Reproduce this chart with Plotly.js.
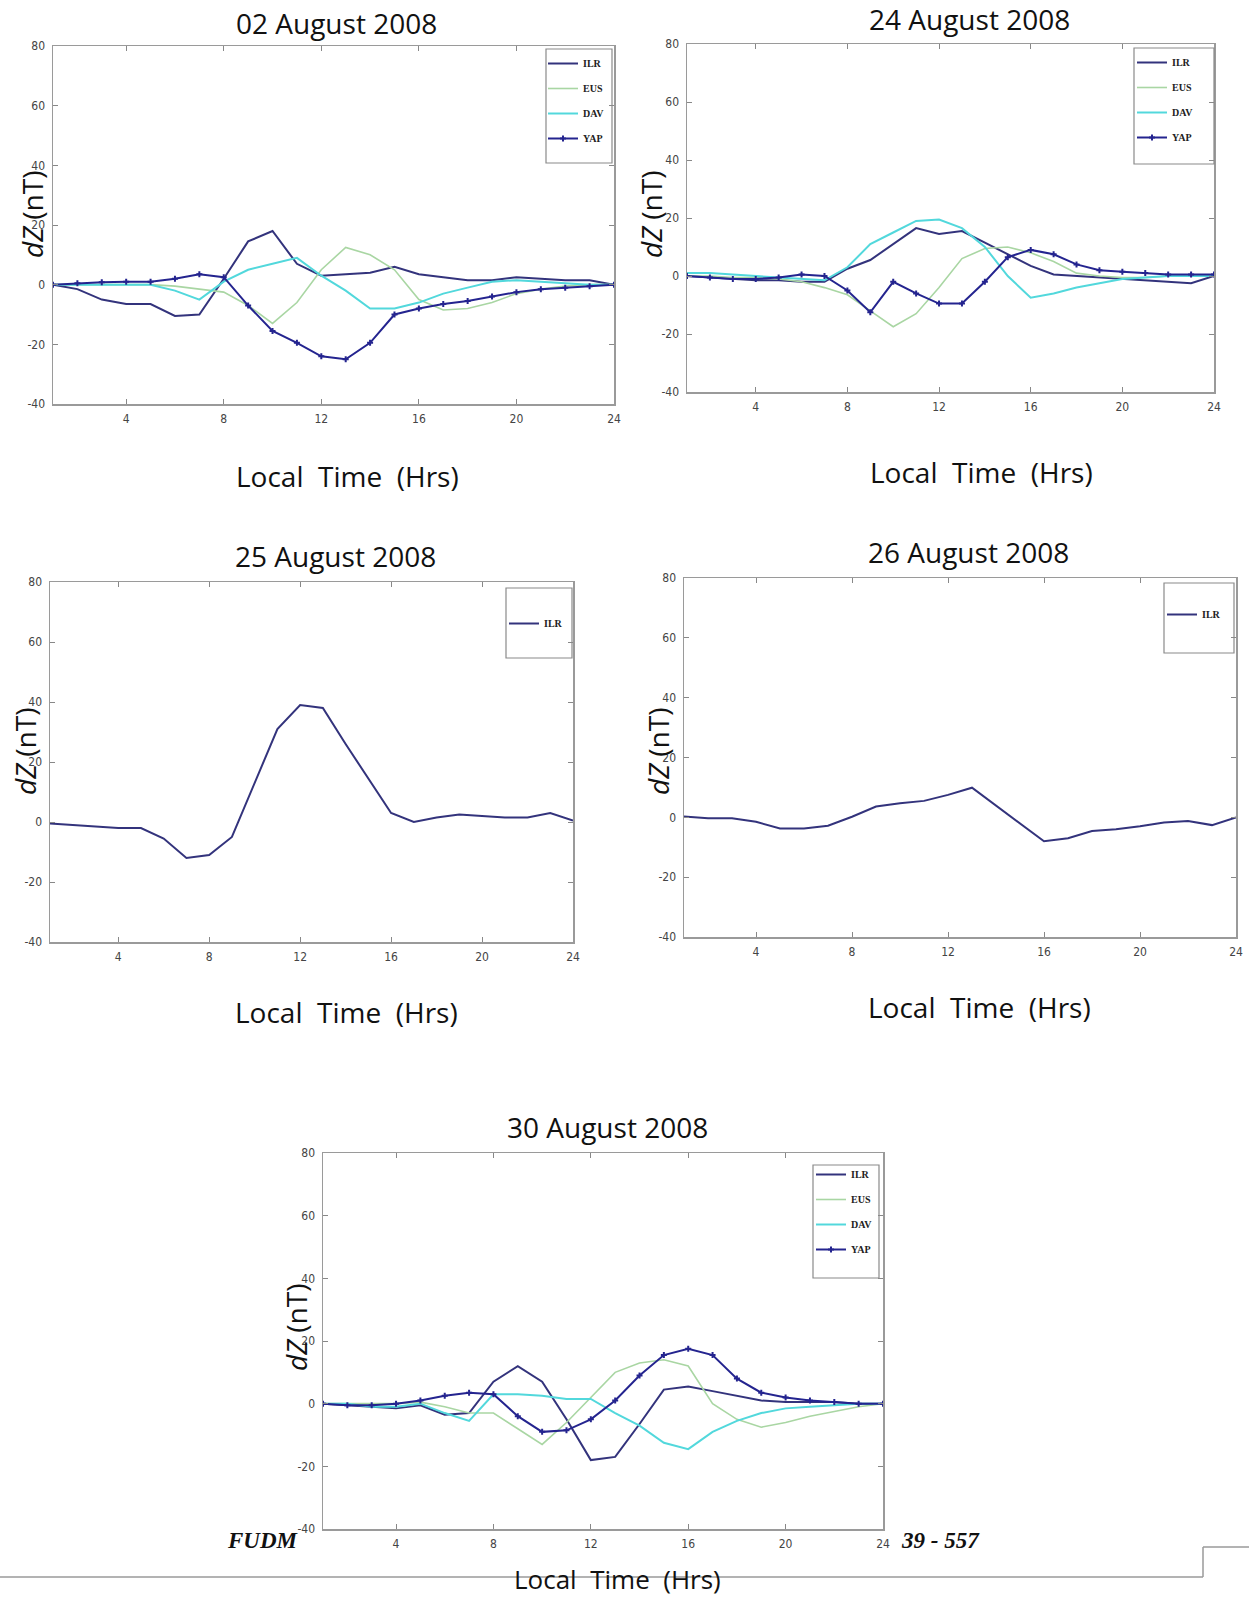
<!DOCTYPE html>
<html><head><meta charset="utf-8">
<script src="https://cdn.plot.ly/plotly-3.0.1.min.js"></script>
<style>html,body{margin:0;padding:0;background:#fff}#chart{width:1249px;height:1598px}</style>
</head><body><div id="chart"></div>
<script>
// ---------- data ----------
const hours = [1,2,3,4,5,6,7,8,9,10,11,12,13,14,15,16,17,18,19,20,21,22,23,24];
const xTicks = [4,8,12,16,20,24];
const yTicks = [-40,-20,0,20,40,60,80];
const stations = ['ILR','EUS','DAV','YAP'];
const dates = ['02 August 2008','24 August 2008','25 August 2008','26 August 2008','30 August 2008'];

const ILR_02Aug = [0,-1.5,-5,-6.5,-6.5,-10.5,-10,2,14.5,18,7,3,3.5,4,6,3.5,2.5,1.5,1.5,2.5,2,1.5,1.5,0];
const EUS_02Aug = [0,0,0,0,0,-0.5,-1.5,-2.5,-7,-13,-6,5,12.5,10,5,-5,-8.5,-8,-6,-3,-1.5,-0.5,0,0];
const DAV_02Aug = [0,0,0,0,0,-2,-5,1,5,7,9,3,-2,-8,-8,-6,-3,-1,1,1.5,1,0.5,0,0];
const YAP_02Aug = [0,0.5,0.8,1,1,2,3.5,2.5,-7,-15.5,-19.5,-24,-25,-19.5,-10,-8,-6.5,-5.5,-4,-2.5,-1.5,-1,-0.5,0];

const ILR_24Aug = [0,-0.5,-1,-1.5,-1.5,-2,-2,2.5,5.5,11,16.5,14.5,15.5,11.5,7.5,3.5,0.5,0,-0.5,-1,-1.5,-2,-2.5,0];
const EUS_24Aug = [0,0,-0.5,-0.5,-1,-2,-4,-6.5,-12,-17.5,-13,-4,6,9.5,10,8,5,1,0,-0.5,-0.5,0,0,0];
const DAV_24Aug = [1,1,0.5,0,-0.5,-1,-1.5,3,11,15,19,19.5,16.5,10,0,-7.5,-6,-4,-2.5,-1,-0.5,0,0,0];
const YAP_24Aug = [0,-0.5,-1,-1,-0.5,0.5,0,-5,-12.5,-2,-6,-9.5,-9.5,-2,6.5,9,7.5,4,2,1.5,1,0.5,0.5,0.5];

const ILR_25Aug = [-0.5,-1,-1.5,-2,-2,-5.5,-12,-11,-5,13,31,39,38,26,14.5,3,0,1.5,2.5,2,1.5,1.5,3,0.5];

const ILR_26Aug = [0.3,-0.3,-0.3,-1.5,-3.7,-3.7,-2.8,0.2,3.6,4.7,5.5,7.5,9.9,4,-2,-8,-7,-4.6,-4,-3,-1.7,-1.2,-2.6,0];

const ILR_30Aug = [0,-0.5,-1,-1.5,-0.5,-3.5,-3,7,12,7,-5,-18,-17,-6.5,4.5,5.5,4,2.5,1,0.5,0.5,0.5,0,0];
const EUS_30Aug = [0,0,0,0,0.5,-1,-3,-3,-8,-13,-6,2,10,13,14,12,0,-5,-7.5,-6,-4,-2.5,-1,0];
const DAV_30Aug = [0,0,-1,-1,0,-3,-5.5,3,3,2.5,1.5,1.5,-3,-7,-12.5,-14.5,-9,-5.5,-3,-1.5,-1,-0.5,0,0];
const YAP_30Aug = [0,-0.5,-0.5,0,1,2.5,3.5,3,-4,-9,-8.5,-5,1,9,15.5,17.5,15.5,8,3.5,2,1,0.5,0,0];

const panelSeries = [
  {ILR: ILR_02Aug, EUS: EUS_02Aug, DAV: DAV_02Aug, YAP: YAP_02Aug},
  {ILR: ILR_24Aug, EUS: EUS_24Aug, DAV: DAV_24Aug, YAP: YAP_24Aug},
  {ILR: ILR_25Aug},
  {ILR: ILR_26Aug},
  {ILR: ILR_30Aug, EUS: EUS_30Aug, DAV: DAV_30Aug, YAP: YAP_30Aug}
];

// ---------- styling / layout ----------
const W = 1249, H = 1598;
const fx = p => p / W;
const fy = p => 1 - p / H;

const styles = {
  ILR: {mode: 'lines', line: {color: '#33337c', width: 2}},
  EUS: {mode: 'lines', line: {color: '#a9d6a3', width: 1.6}},
  DAV: {mode: 'lines', line: {color: '#52d8dc', width: 2}},
  YAP: {mode: 'lines+markers', line: {color: '#24248f', width: 2},
        marker: {symbol: 'cross', size: 5, color: '#24248f'}}
};

// plot area boxes (px)
const boxes = [
  {l: 53, r: 614, t: 46, b: 404},
  {l: 687, r: 1214, t: 44, b: 392},
  {l: 50, r: 573, t: 582, b: 942},
  {l: 684, r: 1236, t: 578, b: 937},
  {l: 323, r: 883, t: 1153, b: 1529}
];
const titlePos = [[336, 23], [970, 19], [335, 556], [968, 552], [607, 1127]];
const yLabPos = [[32, 214], [651, 215], [25, 752], [658, 752], [296, 1328]];
const xLabPos = [[347, 476], [981, 472], [346, 1012], [979, 1007], [617, 1579]];
const legPos = [[543, 49], [1132, 48], [504, 609], [1162, 600], [811, 1160]];
const legBox = [[546, 612, 49, 163], [1134, 1214, 48, 164], [506, 572, 588, 658], [1164, 1234, 583, 653], [813, 879, 1165, 1278]];

const tickFont = {family: "'Liberation Sans Narrow', 'DejaVu Sans Condensed', sans-serif", size: 12, color: '#444'};
const textFont = {family: "'Open Sans', 'Noto Sans', sans-serif", size: 28, color: '#111'};

const traces = [];
const layout = {
  width: W, height: H,
  margin: {l: 0, r: 0, t: 0, b: 0},
  paper_bgcolor: '#fff', plot_bgcolor: '#fff',
  showlegend: true,
  annotations: [], shapes: []
};

panelSeries.forEach((series, i) => {
  const n = i === 0 ? '' : String(i + 1);
  const bx = boxes[i];
  const legKey = 'legend' + n;
  stations.forEach(st => {
    if (!series[st]) return;
    const s = styles[st];
    const tr = {
      type: 'scatter', x: hours, y: series[st], name: st,
      xaxis: 'x' + n, yaxis: 'y' + n, legend: legKey,
      legendgroup: st + i, mode: s.mode, line: s.line, hoverinfo: 'x+y+name'
    };
    if (s.marker) tr.marker = s.marker;
    traces.push(tr);
  });
  const axCommon = {
    showgrid: false, zeroline: false, showline: true, mirror: 'ticks',
    linecolor: '#9a9a9a', linewidth: 1.5, ticks: 'inside', ticklen: 5,
    tickcolor: '#888', tickwidth: 1, tickfont: tickFont, fixedrange: true
  };
  layout['xaxis' + n] = Object.assign({}, axCommon, {
    domain: [fx(bx.l), fx(bx.r)], anchor: 'y' + n, range: [1, 24],
    tickmode: 'array', tickvals: xTicks, ticktext: xTicks.map(String), ticklabelstandoff: 3
  });
  layout['yaxis' + n] = Object.assign({}, axCommon, {
    domain: [fy(bx.b), fy(bx.t)], anchor: 'x' + n, range: [-40, 80],
    tickmode: 'array', tickvals: yTicks, ticktext: yTicks.map(String), ticklabelstandoff: 4
  });
  layout[legKey] = {
    x: fx(legPos[i][0]), y: fy(legPos[i][1]), xanchor: 'left', yanchor: 'top',
    bgcolor: 'rgba(0,0,0,0)', borderwidth: 0, traceorder: 'grouped', tracegroupgap: 6,
    font: {family: "'Liberation Serif', serif", size: 10, color: '#222', weight: 'bold'},
    itemclick: false, itemdoubleclick: false
  };
  const lb = legBox[i];
  layout.shapes.push({type: 'rect', xref: 'paper', yref: 'paper',
    x0: fx(lb[0]), x1: fx(lb[1]), y0: fy(lb[3]), y1: fy(lb[2]),
    line: {color: '#8a8a8a', width: 1.2}, fillcolor: 'rgba(0,0,0,0)', layer: 'above'});
  layout.annotations.push({text: dates[i], xref: 'paper', yref: 'paper',
    x: fx(titlePos[i][0]), y: fy(titlePos[i][1]), xanchor: 'center', yanchor: 'middle',
    showarrow: false, font: textFont});
  layout.annotations.push({text: '<i>dZ</i> (nT)', xref: 'paper', yref: 'paper',
    x: fx(yLabPos[i][0]), y: fy(yLabPos[i][1]), xanchor: 'center', yanchor: 'middle',
    textangle: -90, showarrow: false, font: Object.assign({}, textFont, {size: 28})});
  layout.annotations.push({text: 'Local\u00a0 Time\u00a0 (Hrs)', xref: 'paper', yref: 'paper',
    x: fx(xLabPos[i][0]), y: fy(xLabPos[i][1]), xanchor: 'center', yanchor: 'middle',
    showarrow: false, font: Object.assign({}, textFont, {size: i === 4 ? 26 : 28})});
});

// page footer remnants
const footFont = {family: "'Liberation Serif', serif", size: 23, color: '#111'};
layout.annotations.push({text: '<b><i>FUDM</i></b>', xref: 'paper', yref: 'paper',
  x: fx(301), y: fy(1540), xanchor: 'right', yanchor: 'middle', showarrow: false, font: footFont});
layout.annotations.push({text: '<b><i>39 - 557</i></b>', xref: 'paper', yref: 'paper',
  x: fx(899), y: fy(1540), xanchor: 'left', yanchor: 'middle', showarrow: false, font: footFont});
const footLine = {color: '#9a9a9a', width: 1.5};
layout.shapes.push({type: 'line', xref: 'paper', yref: 'paper', x0: 0, x1: fx(1203), y0: fy(1577), y1: fy(1577), line: footLine});
layout.shapes.push({type: 'line', xref: 'paper', yref: 'paper', x0: fx(1203), x1: fx(1203), y0: fy(1577), y1: fy(1547), line: footLine});
layout.shapes.push({type: 'line', xref: 'paper', yref: 'paper', x0: fx(1203), x1: 1, y0: fy(1547), y1: fy(1547), line: footLine});

Plotly.newPlot('chart', traces, layout, {staticPlot: true, displayModeBar: false});
</script>
</body></html>
